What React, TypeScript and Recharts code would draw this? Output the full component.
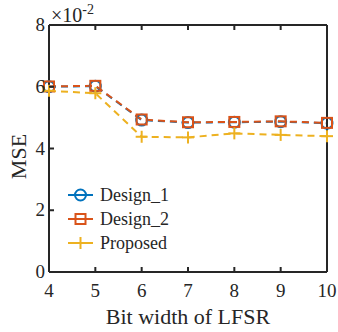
import { LineChart, Line, XAxis, YAxis, Legend } from 'recharts';

const bitWidths = [4, 5, 6, 7, 8, 9, 10];
// MSE values, in units of 1e-2
const design1 = [6.0, 6.02, 4.92, 4.84, 4.85, 4.87, 4.82];
const design2 = [6.01, 6.03, 4.94, 4.85, 4.86, 4.88, 4.83];
const proposed = [5.87, 5.79, 4.38, 4.36, 4.49, 4.44, 4.4];
const xTicks = [4, 5, 6, 7, 8, 9, 10];
const yTicks = [0, 2, 4, 6, 8];

const data = bitWidths.map((b, i) => ({
  bits: b,
  design1: design1[i],
  design2: design2[i],
  proposed: proposed[i],
}));

const FONT = 'Liberation Serif, Times New Roman, serif';
const AXIS = '#262626';
const BLUE = '#0072BD';
const ORANGE = '#D95319';
const YELLOW = '#EDB120';

const SERIES = [
  { key: 'design1', label: 'Design_1', color: BLUE, marker: 'circle' },
  { key: 'design2', label: 'Design_2', color: ORANGE, marker: 'square' },
  { key: 'proposed', label: 'Proposed', color: YELLOW, marker: 'plus' },
];

function Marker({ cx, cy, type, color }: { cx: number; cy: number; type: string; color: string }) {
  if (type === 'circle') {
    return <circle cx={cx} cy={cy} r={5.5} fill="none" stroke={color} strokeWidth={2} />;
  }
  if (type === 'square') {
    return <rect x={cx - 5} y={cy - 5} width={10} height={10} fill="none" stroke={color} strokeWidth={2} />;
  }
  return (
    <g stroke={color} strokeWidth={2}>
      <line x1={cx - 6} y1={cy} x2={cx + 6} y2={cy} />
      <line x1={cx} y1={cy - 6} x2={cx} y2={cy + 6} />
    </g>
  );
}

const makeDot = (type: string, color: string) => (props: any) => (
  <Marker key={`${type}-${props.index}`} cx={props.cx} cy={props.cy} type={type} color={color} />
);

const BottomTick = (props: any) => {
  const { x, y, payload } = props;
  return (
    <g>
      <line x1={x} y1={y} x2={x} y2={y - 5} stroke={AXIS} strokeWidth={2} />
      <text x={x} y={y + 25} textAnchor="middle" fontFamily={FONT} fontSize={19} fill={AXIS}>
        {payload.value}
      </text>
    </g>
  );
};

const TopTick = (props: any) => (
  <line x1={props.x} y1={props.y} x2={props.x} y2={props.y + 5} stroke={AXIS} strokeWidth={2} />
);

const LeftTick = (props: any) => {
  const { x, y, payload } = props;
  return (
    <g>
      <line x1={x} y1={y} x2={x + 5} y2={y} stroke={AXIS} strokeWidth={2} />
      <text x={x - 4} y={y + 6} textAnchor="end" fontFamily={FONT} fontSize={19} fill={AXIS}>
        {payload.value}
      </text>
    </g>
  );
};

const RightTick = (props: any) => (
  <line x1={props.x} y1={props.y} x2={props.x - 5} y2={props.y} stroke={AXIS} strokeWidth={2} />
);

function LegendBox() {
  return (
    <svg width={130} height={72}>
      {SERIES.map((s, i) => {
        const cy = 12 + i * 24;
        return (
          <g key={s.key}>
            <line x1={0} y1={cy} x2={25} y2={cy} stroke={s.color} strokeWidth={2} />
            <Marker cx={12.5} cy={cy} type={s.marker} color={s.color} />
            <text x={32} y={cy + 6} fontFamily={FONT} fontSize={18} fill={AXIS}>
              {s.label}
            </text>
          </g>
        );
      })}
    </svg>
  );
}

export default function App() {
  return (
    <div style={{ position: 'absolute', left: 0, top: 0, background: '#fff' }}>
      <LineChart
        width={338}
        height={332}
        data={data}
        margin={{ top: 24, right: 10, bottom: 59, left: 48 }}
      >
        <XAxis
          dataKey="bits"
          type="number"
          domain={[4, 10]}
          ticks={xTicks}
          height={1}
          tickSize={0}
          tickMargin={0}
          tickLine={false}
          axisLine={{ stroke: AXIS, strokeWidth: 2 }}
          tick={BottomTick}
          label={{
            content: (p: any) => (
              <text
                x={p.viewBox.x + p.viewBox.width / 2}
                y={p.viewBox.y + 52}
                textAnchor="middle"
                fontFamily={FONT}
                fontSize={22}
                fill={AXIS}
              >
                Bit width of LFSR
              </text>
            ),
          }}
        />
        <XAxis
          xAxisId="top"
          orientation="top"
          dataKey="bits"
          type="number"
          domain={[4, 10]}
          ticks={xTicks}
          height={1}
          tickSize={0}
          tickMargin={0}
          tickLine={false}
          axisLine={{ stroke: AXIS, strokeWidth: 2 }}
          tick={TopTick}
        />
        <YAxis
          type="number"
          domain={[0, 8]}
          ticks={yTicks}
          width={1}
          tickSize={0}
          tickMargin={0}
          tickLine={false}
          axisLine={{ stroke: AXIS, strokeWidth: 2 }}
          tick={LeftTick}
          label={{
            content: (p: any) => {
              const cx = 26;
              const cy = p.viewBox.y + p.viewBox.height / 2 + 8;
              return (
                <g>
                  <text
                    x={cx}
                    y={cy}
                    transform={`rotate(-90 ${cx} ${cy})`}
                    textAnchor="middle"
                    fontFamily={FONT}
                    fontSize={22}
                    fill={AXIS}
                  >
                    MSE
                  </text>
                  <text x={p.viewBox.x + 3} y={p.viewBox.y - 3} fontFamily={FONT} fontSize={20} fill={AXIS}>
                    ×10
                    <tspan fontSize={14} dy={-8}>-2</tspan>
                  </text>
                </g>
              );
            },
          }}
        />
        <YAxis
          yAxisId="right"
          orientation="right"
          type="number"
          domain={[0, 8]}
          ticks={yTicks}
          width={1}
          tickSize={0}
          tickMargin={0}
          tickLine={false}
          axisLine={{ stroke: AXIS, strokeWidth: 2 }}
          tick={RightTick}
        />
        <Legend
          layout="vertical"
          align="center"
          verticalAlign="middle"
          content={() => <LegendBox />}
          wrapperStyle={{ left: 68, top: 183, width: 130 }}
        />
        {SERIES.map((s) => (
          <Line
            key={s.key}
            dataKey={s.key}
            name={s.label}
            stroke={s.color}
            strokeWidth={2}
            strokeDasharray="7 5"
            dot={makeDot(s.marker, s.color)}
            activeDot={false}
            isAnimationActive={false}
          />
        ))}
      </LineChart>
    </div>
  );
}
